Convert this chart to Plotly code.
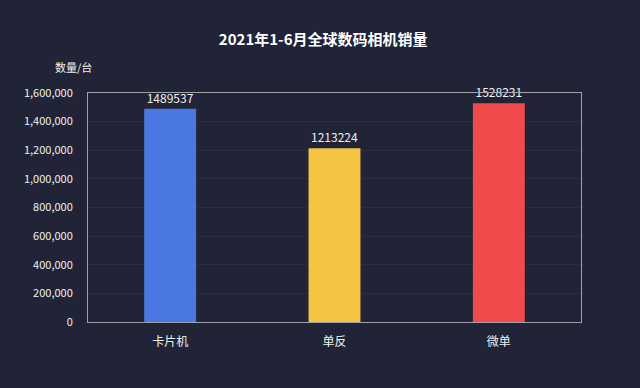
import plotly.graph_objects as go

categories = ["卡片机", "单反", "微单"]
values = [1489537, 1213224, 1528231]
colors = ["#4a78e0", "#f5c443", "#ef4b4c"]
y_ticks = [0, 200000, 400000, 600000, 800000, 1000000, 1200000, 1400000, 1600000]
y_tick_labels = ["0", "200,000", "400,000", "600,000", "800,000", "1,000,000", "1,200,000", "1,400,000", "1,600,000"]

bg = "#212436"
font_family = "Noto Sans CJK SC, Noto Sans, sans-serif"

fig = go.Figure(go.Bar(
    x=categories,
    y=values,
    marker=dict(color=colors, line=dict(width=0)),
    text=[str(v) for v in values],
    textposition="outside",
    textfont=dict(color="#f0f0f0", size=12, family=font_family),
    cliponaxis=False,
    width=0.316,
))

fig.update_layout(
    width=640, height=388,
    paper_bgcolor=bg, plot_bgcolor=bg,
    margin=dict(l=88, r=59, t=93, b=66),
    font=dict(family=font_family, color="#f0f0f0"),
    showlegend=False,
    title=dict(text="<b>2021年1-6月全球数码相机销量</b>", x=0.505, xanchor="center",
               y=1 - 40 / 388, yanchor="middle",
               font=dict(size=15, color="#ffffff", family=font_family)),
    xaxis=dict(showgrid=False, tickfont=dict(size=12, color="#f0f0f0"),
               showline=True, linecolor="#9fa2ab", linewidth=1, mirror=True,
               ticks="", ticklen=0, ticklabelstandoff=9),
    yaxis=dict(range=[0, 1600000], tickvals=y_ticks, ticktext=y_tick_labels,
               tickfont=dict(size=11, color="#f0f0f0"),
               showgrid=True, gridcolor="#2a2d40", gridwidth=1,
               showline=True, linecolor="#9fa2ab", linewidth=1, mirror=True,
               zeroline=False, ticks="outside", ticklen=12, tickcolor=bg),
    annotations=[dict(text="数量/台", xref="paper", yref="paper",
                      x=-0.072, y=1 + 26 / 229, xanchor="left", yanchor="middle",
                      showarrow=False, font=dict(size=11, color="#f0f0f0", family=font_family))],
)

fig.write_html("out.html", config={"displayModeBar": False},
               post_script="document.body.style.margin='0';document.body.style.background='#212436';")
